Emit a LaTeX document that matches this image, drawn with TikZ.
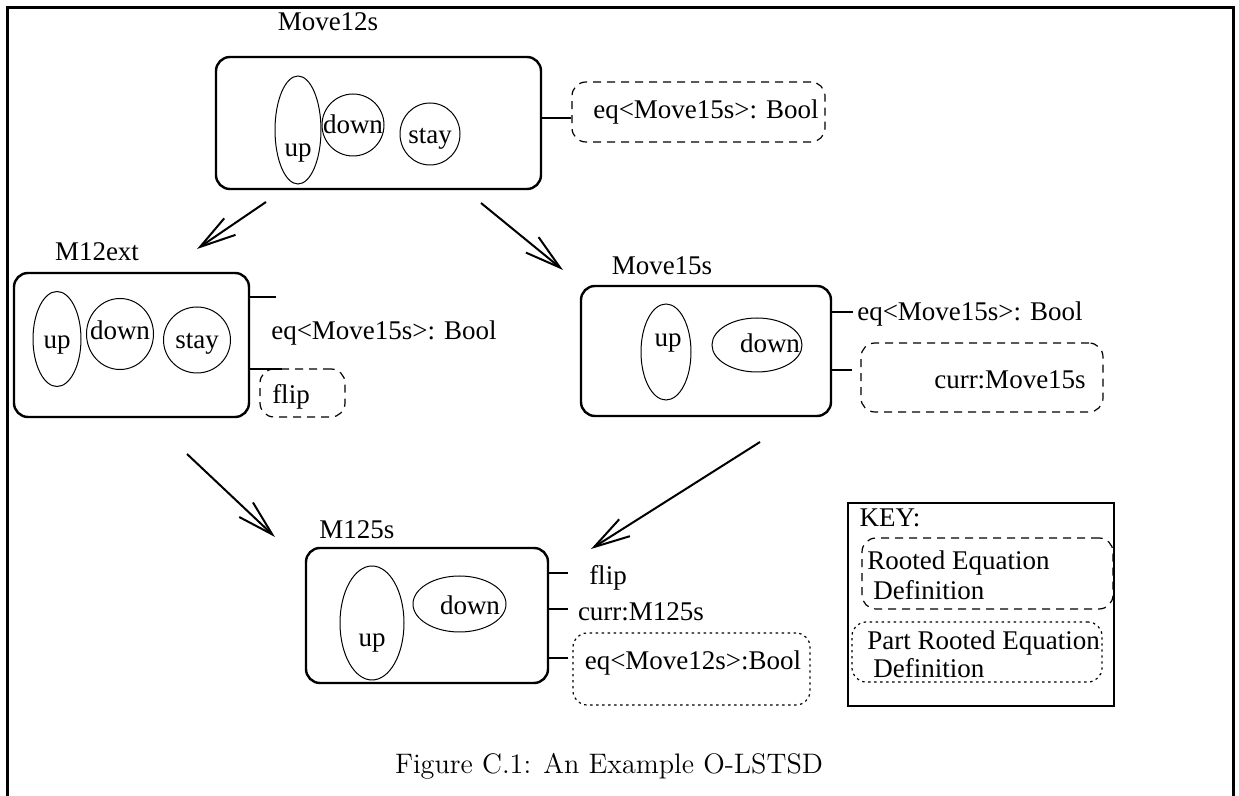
\documentclass[tikz,border=0pt]{standalone}
\usepackage{fontspec}
\newfontfamily\tnr{Liberation Serif}
\usetikzlibrary{shapes.geometric,arrows.meta}
\begin{document}
\begin{tikzpicture}[x=0.5pt,y=-0.5pt,
  txt/.style={font=\tnr\fontsize{13.5}{16}\selectfont, inner sep=0pt},
  bigbox/.style={draw, rounded corners=7pt, line width=1.2pt, inner sep=0pt},
  oval/.style={draw, ellipse, line width=0.5pt, inner sep=0pt},
  dbox/.style={draw, rounded corners=7pt, line width=0.6pt, dash pattern=on 4pt off 3pt, inner sep=0pt},
  tbox/.style={draw, rounded corners=7pt, line width=0.6pt, dash pattern=on 1.2pt off 1.8pt, inner sep=0pt},
  stub/.style={line width=0.6pt},
  arr/.style={line width=1pt, -{Straight Barb[length=18pt,width=10pt,line width=1pt]}}]
\useasboundingbox (0,0) rectangle (1239,796);
% frame
\draw[line width=1.5pt] (7,796) -- (7,8) -- (1233,8) -- (1233,796);

% ---- Move12s
\node[txt] (t12) at (328,22) {Move12s};
\node[bigbox, minimum width=162.5pt, minimum height=66pt] (m12) at (378.5,123) {};
\node[oval, minimum width=23pt, minimum height=54pt] (m12up) at (298,130) {};
\node[txt] (m12upt) at (298,153) {up};
\node[oval, minimum width=31pt, minimum height=31pt] (m12dn) at (353,125) {};
\node[txt] (m12dnt) at (353,124) {down};
\node[oval, minimum width=30pt, minimum height=31pt] (m12st) at (430,134) {};
\node[txt] (m12stt) at (430,139) {stay};
\node[dbox, minimum width=126.5pt, minimum height=30pt] (eq1) at (698.5,112) {};
\node[txt] (eq1t) at (706,112) {eq<Move15s>: Bool};
\draw[stub] (m12.east |- 0,118) -- (eq1.west |- 0,118);

% ---- M12ext
\node[txt] (tx) at (97,252) {M12ext};
\node[bigbox, minimum width=117.5pt, minimum height=72pt] (mx) at (131.5,345) {};
\node[oval, minimum width=24pt, minimum height=47.5pt] (mxup) at (57,339) {};
\node[txt] (mxupt) at (57,345) {up};
\node[oval, minimum width=33.5pt, minimum height=35.5pt] (mxdn) at (120,334) {};
\node[txt] (mxdnt) at (120,330) {down};
\node[oval, minimum width=33.5pt, minimum height=33pt] (mxst) at (197,340) {};
\node[txt] (mxstt) at (197,344) {stay};
\coordinate (mxs1) at (276,297);
\coordinate (mxs2) at (282,369);
\draw[stub] (mx.east |- mxs1) -- (mxs1);
\draw[stub] (mx.east |- mxs2) -- (mxs2);
\node[txt] (mxeq) at (384,333) {eq<Move15s>: Bool};
\node[dbox, minimum width=42.5pt, minimum height=24pt] (flipx) at (302.5,393) {};
\node[txt] (flipxt) at (291,397) {flip};

% ---- Move15s
\node[txt] (t15) at (662,266) {Move15s};
\node[bigbox, minimum width=125pt, minimum height=65pt] (m15) at (706,351) {};
\node[oval, minimum width=25pt, minimum height=48pt] (m15up) at (666,352) {};
\node[txt] (m15upt) at (668,343) {up};
\node[oval, minimum width=45pt, minimum height=27pt] (m15dn) at (757,345) {};
\node[txt] (m15dnt) at (770,343) {down};
\coordinate (m15s1) at (853,312);
\coordinate (m15s2) at (852,370);
\draw[stub] (m15.east |- m15s1) -- (m15s1);
\draw[stub] (m15.east |- m15s2) -- (m15s2);
\node[txt] (m15eq) at (970,314) {eq<Move15s>: Bool};
\node[dbox, minimum width=121pt, minimum height=34.5pt] (curr15) at (982,377.5) {};
\node[txt] (curr15t) at (1010,380) {curr:Move15s};

% ---- M125s
\node[txt] (t125) at (357,530) {M125s};
\node[bigbox, minimum width=121pt, minimum height=67.5pt] (m125) at (427,615.5) {};
\node[oval, minimum width=32pt, minimum height=57pt] (m125up) at (372,623) {};
\node[txt] (m125upt) at (372,643) {up};
\node[oval, minimum width=46.5pt, minimum height=28pt] (m125dn) at (459.5,604) {};
\node[txt] (m125dnt) at (470,605) {down};
\coordinate (ms1) at (568,573);
\coordinate (ms2) at (568,609);
\coordinate (ms3) at (568,658);
\draw[stub] (m125.east |- ms1) -- (ms1);
\draw[stub] (m125.east |- ms2) -- (ms2);
\draw[stub] (m125.east |- ms3) -- (ms3);
\node[txt] (flip125) at (608,578) {flip};
\node[txt] (curr125) at (641,612) {curr:M125s};
\node[tbox, minimum width=118.5pt, minimum height=36pt] (eq125) at (691.5,669) {};
\node[txt] (eq125t) at (693,663) {eq<Move12s>:Bool};

% ---- Key
\node[draw, line width=1.2pt, minimum width=133pt, minimum height=101.5pt, inner sep=0pt] (key) at (981,604.5) {};
\node[txt] (keyt) at (890,518) {KEY:};
\node[dbox, minimum width=125.5pt, minimum height=35.5pt] (kr) at (987.5,573.5) {};
\node[txt, anchor=west] (kr1) at (867,563) {Rooted Equation};
\node[txt, anchor=west] (kr2) at (873,590) {Definition};
\node[tbox, minimum width=125pt, minimum height=30pt] (kp) at (977,652) {};
\node[txt, anchor=west] (kp1) at (867,643) {Part Rooted Equation};
\node[txt, anchor=west] (kp2) at (873,668) {Definition};

% ---- arrows
\coordinate (a1s) at (266,202); \coordinate (a1e) at (197,249);
\coordinate (a2s) at (481,203); \coordinate (a2e) at (563,270);
\coordinate (a3s) at (187,454); \coordinate (a3e) at (275,537);
\coordinate (a4s) at (760,442); \coordinate (a4e) at (591,549);
\draw[arr] (a1s) -- (a1e);
\draw[arr] (a2s) -- (a2e);
\draw[arr] (a3s) -- (a3e);
\draw[arr] (a4s) -- (a4e);

% caption
\node[font=\fontsize{14.1}{17}\selectfont, inner sep=0pt] (cap) at (609,766) {Figure C.1: An Example O-LSTSD};
\end{tikzpicture}
\end{document}
